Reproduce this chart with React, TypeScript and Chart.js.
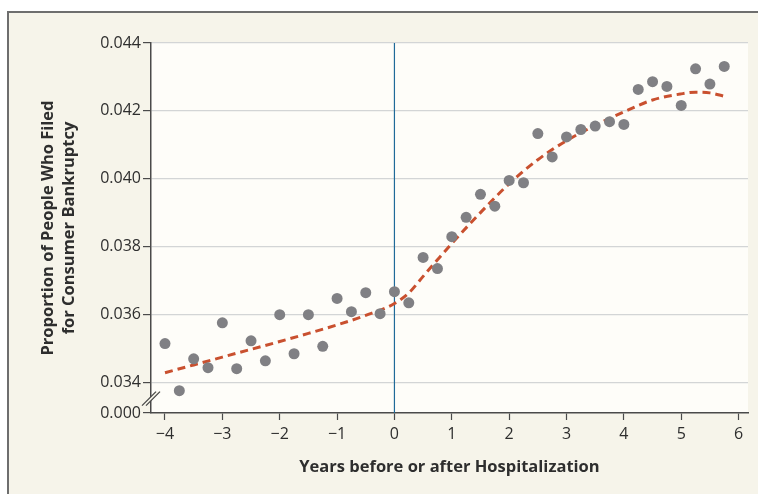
import React, { useEffect, useRef } from "react";
import { Chart, registerables } from "chart.js";

Chart.register(...registerables);

// ---- Data ----
const years = [
  -4, -3.75, -3.5, -3.25, -3, -2.75, -2.5, -2.25, -2, -1.75, -1.5, -1.25, -1, -0.75, -0.5, -0.25,
  0, 0.25, 0.5, 0.75, 1, 1.25, 1.5, 1.75, 2, 2.25, 2.5, 2.75, 3, 3.25, 3.5, 3.75, 4, 4.25, 4.5,
  4.75, 5, 5.25, 5.5, 5.75,
];
const proportions = [
  0.03514, 0.03375, 0.03469, 0.03443, 0.03575, 0.0344, 0.03522, 0.03463, 0.03599, 0.03484,
  0.03599, 0.03506, 0.03647, 0.03608, 0.03664, 0.03602, 0.03667, 0.03634, 0.03768, 0.03735,
  0.03829, 0.03886, 0.03954, 0.03919, 0.03995, 0.03988, 0.04133, 0.04064, 0.04123, 0.04145,
  0.04155, 0.04168, 0.0416, 0.04263, 0.04286, 0.04272, 0.04216, 0.04324, 0.04279, 0.04331,
];
const trendYears = [
  -4, -3.5, -3, -2.5, -2, -1.5, -1, -0.5, 0, 0.25, 0.5, 0.75, 1, 1.5, 2, 2.5, 3, 3.5, 4, 4.5, 5,
  5.25, 5.5, 5.75,
];
const trendValues = [
  0.03428, 0.03451, 0.03474, 0.03497, 0.0352, 0.03544, 0.03569, 0.03597, 0.03632, 0.03663,
  0.03712, 0.03761, 0.03809, 0.039, 0.03985, 0.04056, 0.04112, 0.04157, 0.04197, 0.04232,
  0.0425, 0.04255, 0.04253, 0.04243,
];
const xTickValues = [-4, -3, -2, -1, 0, 1, 2, 3, 4, 5, 6];
const yTickValues = [0.034, 0.036, 0.038, 0.04, 0.042, 0.044];
// broken axis: the "0.000" tick is drawn just below 0.034
const yBreakValue = 0.033093;
const yBreakLabel = "0.000";
const hospitalizationYear = 0;

const xTitle = "Years before or after Hospitalization";
const yTitle = ["Proportion of People Who Filed", "for Consumer Bankruptcy"];

const FONT = "'Open Sans', Lato, sans-serif";
const TEXT = "#2e2e2e";
const PLOT_BG = "#fefdf9";
const PANEL_BG = "#f6f4ea";

export default function App() {
  const ref = useRef<HTMLCanvasElement | null>(null);

  useEffect(() => {
    if (!ref.current) return;
    const plotBg = {
      id: "plotBg",
      beforeDraw(chart: any) {
        const { ctx, chartArea } = chart;
        ctx.save();
        ctx.fillStyle = PLOT_BG;
        ctx.fillRect(chartArea.left, chartArea.top, chartArea.right - chartArea.left, chartArea.bottom - chartArea.top);
        ctx.restore();
      },
    };
    const extras = {
      id: "extras",
      afterDraw(chart: any) {
        const { ctx, chartArea, scales } = chart;
        ctx.save();
        // axis titles
        ctx.fillStyle = TEXT;
        ctx.font = `bold 16.5px ${FONT}`;
        ctx.textAlign = "center";
        ctx.textBaseline = "middle";
        ctx.fillText(xTitle, (chartArea.left + chartArea.right) / 2, 467);
        const cy = (chartArea.top + chartArea.bottom) / 2;
        ctx.save();
        ctx.translate(48, cy);
        ctx.rotate(-Math.PI / 2);
        ctx.fillText(yTitle[0], 0, 0);
        ctx.restore();
        ctx.save();
        ctx.translate(69, cy);
        ctx.rotate(-Math.PI / 2);
        ctx.fillText(yTitle[1], 0, 0);
        ctx.restore();
        // axis break marks
        const y1 = scales.y.getPixelForValue(0.034);
        const y0 = scales.y.getPixelForValue(yBreakValue);
        const bx = chartArea.left;
        const by = (y0 + y1) / 2 + 1;
        ctx.fillStyle = PANEL_BG;
        ctx.beginPath();
        ctx.moveTo(bx - 7 - 2, by + 7);
        ctx.lineTo(bx + 7 - 2, by - 7);
        ctx.lineTo(bx + 7 + 2, by - 7);
        ctx.lineTo(bx - 7 + 2, by + 7);
        ctx.closePath();
        ctx.fill();
        ctx.strokeStyle = "#444";
        ctx.lineWidth = 1.2;
        for (const d of [-2, 2]) {
          ctx.beginPath();
          ctx.moveTo(bx - 7 + d, by + 7);
          ctx.lineTo(bx + 7 + d, by - 7);
          ctx.stroke();
        }
        ctx.restore();
      },
    };

    const chart = new Chart(ref.current, {
      type: "scatter",
      data: {
        datasets: [
          {
            type: "scatter",
            data: years.map((x, i) => ({ x, y: proportions[i] })),
            backgroundColor: "#808084",
            borderColor: "#808084",
            pointRadius: 5.5,
            borderWidth: 0,
            order: 0,
          },
          {
            type: "line",
            data: trendYears.map((x, i) => ({ x, y: trendValues[i] })),
            borderColor: "#c9502f",
            borderWidth: 3,
            borderDash: [8, 5],
            pointRadius: 0,
            fill: false,
            cubicInterpolationMode: "monotone",
            order: 1,
          },
          {
            type: "line",
            data: [
              { x: hospitalizationYear, y: yBreakValue },
              { x: hospitalizationYear, y: 0.044 },
            ],
            borderColor: "#1f6a99",
            borderWidth: 1.2,
            pointRadius: 0,
            fill: false,
            order: 2,
          },
        ],
      } as any,
      options: {
        animation: false,
        responsive: false,
        events: [],
        layout: { padding: { left: 0, top: 43, right: 10, bottom: 0 } },
        plugins: { legend: { display: false }, tooltip: { enabled: false } },
        scales: {
          x: {
            type: "linear",
            min: -4.244,
            max: 6.164,
            afterFit: (s: any) => {
              s.height = 81;
            },
            afterBuildTicks: (s: any) => {
              s.ticks = xTickValues.map((v) => ({ value: v }));
            },
            border: { display: true, color: "#4a4a4a", width: 1.5 },
            grid: { display: true, drawOnChartArea: false, drawTicks: true, tickLength: 7, tickColor: "#4a4a4a", tickWidth: 1.2 },
            ticks: {
              color: TEXT,
              font: { family: FONT, size: 16 },
              padding: 5,
              maxRotation: 0,
              callback: (v: any) => (v < 0 ? "\u2212" + Math.abs(v) : String(v)),
            },
          },
          y: {
            type: "linear",
            min: yBreakValue,
            max: 0.044,
            afterFit: (s: any) => {
              s.width = 151;
            },
            afterBuildTicks: (s: any) => {
              s.ticks = [yBreakValue, ...yTickValues].map((v) => ({ value: v }));
            },
            border: { display: true, color: "#4a4a4a", width: 1.5 },
            grid: {
              display: true,
              drawOnChartArea: true,
              drawTicks: true,
              tickLength: 8,
              tickColor: "#4a4a4a",
              tickWidth: 1.2,
              color: (c: any) => (c.tick && c.tick.value < 0.0335 ? "rgba(0,0,0,0)" : "#d3d5d6"),
              lineWidth: 1.2,
            },
            ticks: {
              color: TEXT,
              font: { family: FONT, size: 16 },
              padding: 2,
              callback: (v: any) => (v < 0.0335 ? yBreakLabel : Number(v).toFixed(3)),
            },
          },
        },
      },
      plugins: [plotBg, extras],
    });
    return () => chart.destroy();
  }, []);

  return (
    <div style={{ position: "fixed", left: 0, top: 0, width: 758, height: 494, overflow: "hidden", background: "#ffffff" }}>
      <div
        style={{
          position: "absolute",
          left: 7,
          top: 11,
          width: 800,
          height: 520,
          background: PANEL_BG,
          borderTop: "2px solid #6e6e6e",
          borderLeft: "2px solid #6e6e6e",
        }}
      />
      <canvas ref={ref} width={758} height={494} style={{ position: "absolute", left: 0, top: 0, width: 758, height: 494 }} />
    </div>
  );
}
